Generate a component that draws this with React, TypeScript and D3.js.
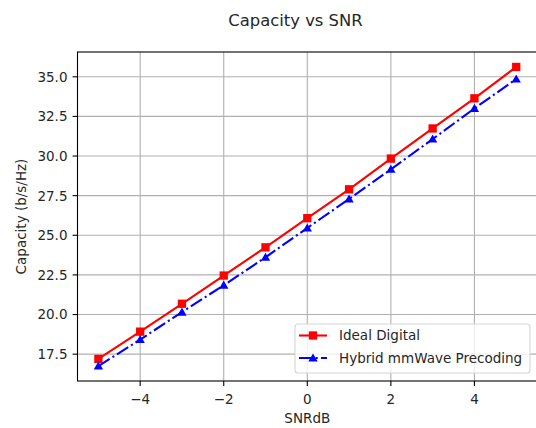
import { useEffect, useRef } from 'react';
import * as d3 from 'd3';

const snrDb = [-5, -4, -3, -2, -1, 0, 1, 2, 3, 4, 5];
const idealDigital = [17.2, 18.92, 20.68, 22.46, 24.24, 26.08, 27.9, 29.84, 31.74, 33.64, 35.62];
const hybridPrecoding = [16.75, 18.42, 20.15, 21.85, 23.61, 25.46, 27.29, 29.16, 31.07, 33.0, 34.86];
const xTicks = [-4, -2, 0, 2, 4];
const yTicks = [17.5, 20.0, 22.5, 25.0, 27.5, 30.0, 32.5, 35.0];
const seriesNames = ['Ideal Digital', 'Hybrid mmWave Precoding'];

const FONT = '"DejaVu Sans", sans-serif';
const FS = 13.5;

export default function App() {
  const ref = useRef<SVGSVGElement>(null);
  useEffect(() => {
    if (!ref.current) return;
    const svg = d3.select(ref.current);
    svg.selectAll('*').remove();
    const W = 536, H = 428;
    const left = 77.5, right = 537.1, top = 52, bottom = 381;

    const x = d3.scaleLinear().domain([-5.5, 5.5]).range([left, right]);
    const all = [...idealDigital, ...hybridPrecoding];
    const lo = d3.min(all)!, hi = d3.max(all)!;
    const pad = (hi - lo) * 0.05;
    const y = d3.scaleLinear().domain([lo - pad, hi + pad]).range([bottom, top]);

    svg.append('rect').attr('width', W).attr('height', H).attr('fill', 'white');

    // grid
    const grid = svg.append('g').attr('stroke', '#b0b0b0').attr('stroke-width', 1.1);
    xTicks.forEach(t => grid.append('line').attr('x1', x(t)).attr('x2', x(t)).attr('y1', top).attr('y2', bottom));
    yTicks.forEach(t => grid.append('line').attr('x1', left).attr('x2', right).attr('y1', y(t)).attr('y2', y(t)));

    // spines
    svg.append('rect').attr('x', left).attr('y', top).attr('width', right - left).attr('height', bottom - top)
      .attr('fill', 'none').attr('stroke', 'black').attr('stroke-width', 1.1);

    // ticks
    const tk = svg.append('g').attr('font-family', FONT).attr('font-size', FS).attr('fill', '#262626');
    xTicks.forEach(t => {
      tk.append('line').attr('x1', x(t)).attr('x2', x(t)).attr('y1', bottom).attr('y2', bottom + 4.9).attr('stroke', 'black').attr('stroke-width', 1.1);
      tk.append('text').attr('x', x(t)).attr('y', bottom + 22.5).attr('text-anchor', 'middle')
        .text(t < 0 ? '\u2212' + Math.abs(t) : String(t));
    });
    yTicks.forEach(t => {
      tk.append('line').attr('x1', left - 4.9).attr('x2', left).attr('y1', y(t)).attr('y2', y(t)).attr('stroke', 'black').attr('stroke-width', 1.1);
      tk.append('text').attr('x', left - 10).attr('y', y(t)).attr('dy', '0.36em').attr('text-anchor', 'end').text(t.toFixed(1));
    });

    // labels
    svg.append('text').attr('x', x(0)).attr('y', 423).attr('text-anchor', 'middle')
      .attr('font-family', FONT).attr('font-size', FS).attr('fill', '#262626').text('SNRdB');
    svg.append('text').attr('transform', `translate(26,${(top + bottom) / 2}) rotate(-90)`).attr('text-anchor', 'middle')
      .attr('font-family', FONT).attr('font-size', FS).attr('fill', '#262626').text('Capacity (b/s/Hz)');
    svg.append('text').attr('x', 295.5).attr('y', 26).attr('text-anchor', 'middle')
      .attr('font-family', FONT).attr('font-size', 16.4).attr('fill', '#262626').text('Capacity vs SNR');

    const line = d3.line<number>().x((_, i) => x(snrDb[i])).y(d => y(d));
    const sq = 8.3;
    const tri = d3.symbol().type(d3.symbolTriangle).size(38);

    // ideal digital
    svg.append('path').datum(idealDigital).attr('d', line).attr('fill', 'none').attr('stroke', 'red').attr('stroke-width', 2.1);
    svg.append('g').selectAll('rect').data(idealDigital).enter().append('rect')
      .attr('x', (_, i) => x(snrDb[i]) - sq / 2).attr('y', d => y(d) - sq / 2)
      .attr('width', sq).attr('height', sq).attr('fill', 'red');

    // hybrid
    svg.append('path').datum(hybridPrecoding).attr('d', line).attr('fill', 'none').attr('stroke', 'blue')
      .attr('stroke-width', 2.1).attr('stroke-dasharray', '13.3,3.3,2.1,3.3');
    svg.append('g').selectAll('path').data(hybridPrecoding).enter().append('path')
      .attr('d', tri).attr('transform', (d, i) => `translate(${x(snrDb[i])},${y(d) + 0.8})`).attr('fill', 'blue');

    // legend
    const lg = svg.append('g');
    lg.append('rect').attr('x', 295).attr('y', 324).attr('width', 235).attr('height', 49).attr('rx', 3)
      .attr('fill', 'white').attr('fill-opacity', 0.8).attr('stroke', '#d5d5d5').attr('stroke-width', 1.1);
    const rows = [335.5, 358];
    rows.forEach((ry, i) => {
      const color = i === 0 ? 'red' : 'blue';
      lg.append('line').attr('x1', 299).attr('x2', 327).attr('y1', ry).attr('y2', ry).attr('stroke', color).attr('stroke-width', 2.1)
        .attr('stroke-dasharray', i === 0 ? null : '13.3,3.3,2.1,3.3');
      if (i === 0) lg.append('rect').attr('x', 313 - sq / 2).attr('y', ry - sq / 2).attr('width', sq).attr('height', sq).attr('fill', 'red');
      else lg.append('path').attr('d', tri).attr('transform', `translate(313,${ry + 0.8})`).attr('fill', 'blue');
      lg.append('text').attr('x', 339).attr('y', ry).attr('dy', '0.36em').attr('font-family', FONT).attr('font-size', FS)
        .attr('fill', '#262626').text(seriesNames[i]);
    });
  }, []);
  return <svg ref={ref} width={536} height={428} style={{ position: 'absolute', left: 0, top: 0 }} />;
}
